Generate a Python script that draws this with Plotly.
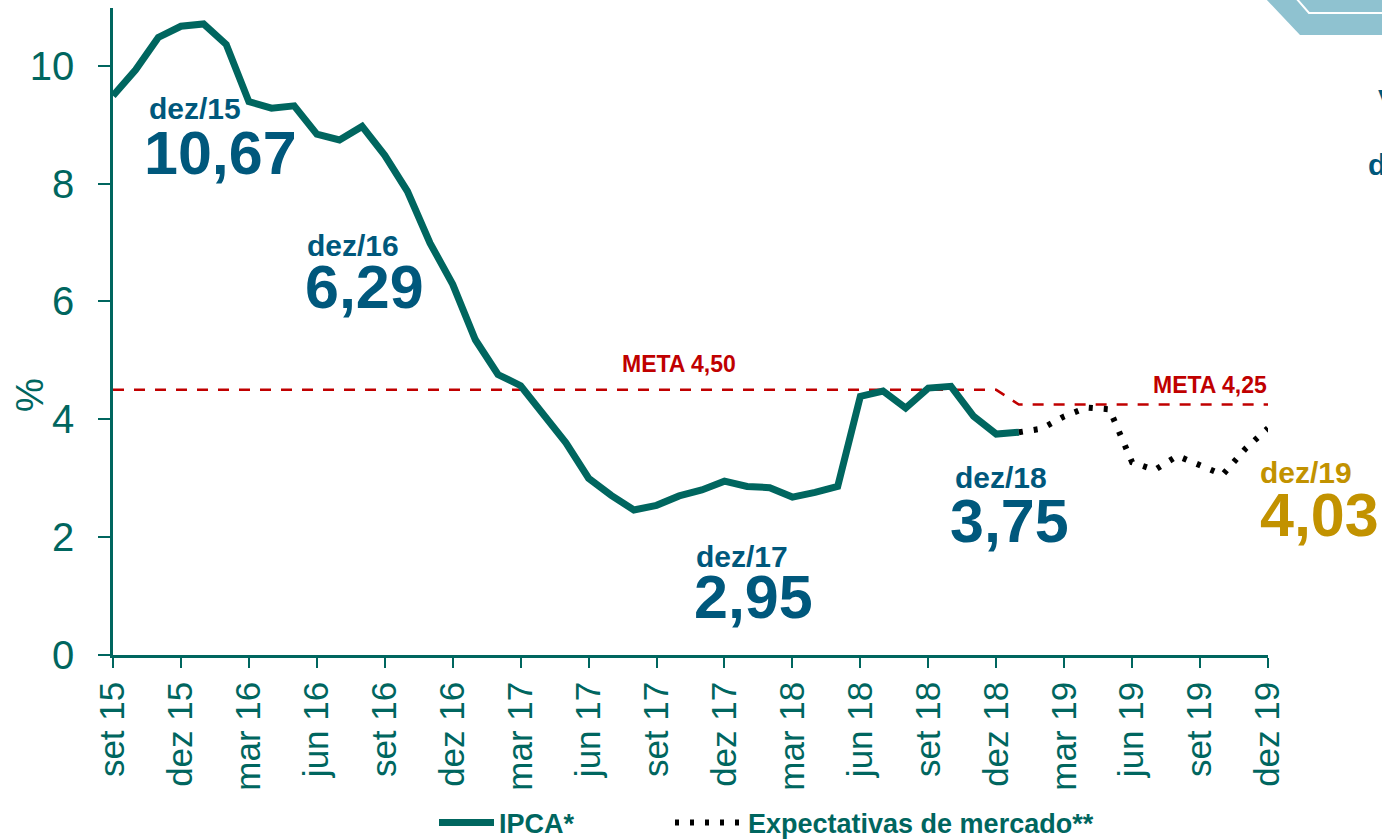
import plotly.graph_objects as go

# ---------------- data ----------------
tick_labels = ["set 15", "dez 15", "mar 16", "jun 16", "set 16", "dez 16", "mar 17",
               "jun 17", "set 17", "dez 17", "mar 18", "jun 18", "set 18", "dez 18",
               "mar 19", "jun 19", "set 19", "dez 19"]

# IPCA 12-month (%), monthly set/15 .. jan/19
ipca = [9.49, 9.93, 10.48, 10.67,
        10.71, 10.36, 9.39, 9.28, 9.32, 8.84, 8.74, 8.97, 8.48, 7.87, 6.99, 6.29,
        5.35, 4.76, 4.57, 4.08, 3.60, 3.00, 2.71, 2.46, 2.54, 2.70, 2.80, 2.95,
        2.86, 2.84, 2.68, 2.76, 2.86, 4.39, 4.48, 4.19, 4.53, 4.56, 4.05, 3.75,
        3.78]

# Market expectations (%), monthly jan/19 .. dez/19
expectativas = [3.78, 3.84, 4.05, 4.20, 4.17, 3.27, 3.14, 3.38, 3.22, 3.06, 3.50, 3.85]

# Inflation target (meta)
meta_ate_2018 = 4.50
meta_2019 = 4.25
meses_meta_ate_2018 = 40   # set/15 .. dez/18
meses_meta_2019 = 12       # jan/19 .. dez/19

# highlight labels
labels_periodo = ["dez/15", "dez/16", "dez/17", "dez/18", "dez/19"]
labels_valor = ["10,67", "6,29", "2,95", "3,75", "4,03"]

# ---------------- layout helpers ----------------
W, H = 1382, 840
L, R, T, B = 113, 114, 8, 185
PW, PH = W - L - R, H - T - B


def px(x):
    return (x - L) / PW


def py(y):
    return (H - B - y) / PH


TEAL = "#00665F"
BLUE = "#00587C"
GOLD = "#C29200"
RED = "#C00000"
FONT = "Liberation Sans"

x_ipca = list(range(len(ipca)))
x_exp = list(range(len(ipca) - 1, len(ipca) - 1 + len(expectativas)))
meta = [meta_ate_2018] * meses_meta_ate_2018 + [meta_2019] * meses_meta_2019
x_meta = list(range(len(meta)))

fig = go.Figure()
fig.add_trace(go.Scatter(x=x_meta, y=meta, mode="lines", showlegend=False,
                         line=dict(color=RED, width=2.5, dash="11px,10px"),
                         hoverinfo="skip"))
fig.add_trace(go.Scatter(x=x_ipca, y=ipca, mode="lines", name="IPCA*",
                         legend="legend",
                         line=dict(color=TEAL, width=7)))
fig.add_trace(go.Scatter(x=x_exp, y=expectativas, mode="lines",
                         name="Expectativas de mercado**", legend="legend2",
                         line=dict(color="black", width=6, dash="4px,11px")))

annotations = []
pos_periodo = [(195, 108, "center"), (353, 245, "center"), (742, 556, "center"),
               (1001, 478, "center"), (1258, 472, "left")]
pos_valor = [(220, 153, "center"), (364, 287, "center"), (753, 597, "center"),
             (1009, 521, "center"), (1258, 515, "left")]
for i, (per, val) in enumerate(zip(labels_periodo, labels_valor)):
    col = GOLD if i == len(labels_periodo) - 1 else BLUE
    x0, y0, xa = pos_periodo[i]
    annotations.append(dict(x=px(x0), y=py(y0), xref="paper", yref="paper",
                            text=per, showarrow=False, xanchor=xa, yanchor="middle",
                            font=dict(family=FONT, size=30, color=col, weight="bold")))
    x1, y1, xa1 = pos_valor[i]
    annotations.append(dict(x=px(x1), y=py(y1), xref="paper", yref="paper",
                            text=val, showarrow=False, xanchor=xa1, yanchor="middle",
                            font=dict(family=FONT, size=61, color=col, weight="bold")))

annotations.append(dict(x=px(679), y=py(364), xref="paper", yref="paper",
                        text="META 4,50", showarrow=False, xanchor="center", yanchor="middle",
                        font=dict(family=FONT, size=23, color=RED, weight="bold")))
annotations.append(dict(x=px(1210), y=py(385), xref="paper", yref="paper",
                        text="META 4,25", showarrow=False, xanchor="center", yanchor="middle",
                        font=dict(family=FONT, size=23, color=RED, weight="bold")))
annotations.append(dict(x=px(30), y=py(395), xref="paper", yref="paper",
                        text="%", showarrow=False, textangle=-90,
                        xanchor="center", yanchor="middle",
                        font=dict(family=FONT, size=38, color=TEAL)))
# partially visible text at right edge
annotations.append(dict(x=px(1376), y=py(100), xref="paper", yref="paper",
                        text="V", showarrow=False, xanchor="left", yanchor="middle",
                        font=dict(family=FONT, size=30, color=BLUE, weight="bold")))
annotations.append(dict(x=px(1366), y=py(165), xref="paper", yref="paper",
                        text="d", showarrow=False, xanchor="left", yanchor="middle",
                        font=dict(family=FONT, size=30, color=BLUE, weight="bold")))

shapes = [
    dict(type="path", xref="paper", yref="paper",
         path=f"M {px(1265)} {py(-2)} L {px(1300)} {py(35)} L {px(1390)} {py(35)} "
              f"L {px(1390)} {py(-2)} Z",
         fillcolor="#8FC2D0", line=dict(width=0), layer="above"),
    dict(type="path", xref="paper", yref="paper",
         path=f"M {px(1296)} {py(-2)} L {px(1309)} {py(13)} L {px(1390)} {py(13)}",
         line=dict(color="white", width=2), layer="above"),
]

legend_font = dict(family=FONT, size=27, color=TEAL, weight="bold")

fig.update_layout(
    width=W, height=H,
    margin=dict(l=L, r=R, t=T, b=B, autoexpand=False),
    paper_bgcolor="white", plot_bgcolor="white",
    showlegend=True,
    legend=dict(orientation="h", x=px(434), xanchor="left", y=py(823), yanchor="middle",
                font=legend_font, itemwidth=55, bgcolor="rgba(0,0,0,0)"),
    legend2=dict(orientation="h", x=px(670), xanchor="left", y=py(823), yanchor="middle",
                 font=legend_font, itemwidth=68, bgcolor="rgba(0,0,0,0)"),
    annotations=annotations,
    shapes=shapes,
    xaxis=dict(range=[0, 51], tickmode="array",
               tickvals=list(range(0, 52, 3)), ticktext=tick_labels,
               tickangle=-90, ticks="outside", ticklen=10, tickwidth=2, tickcolor=TEAL,
               showline=True, linecolor=TEAL, linewidth=2.5, showgrid=False,
               zeroline=False, tickfont=dict(family=FONT, size=35, color=TEAL)),
    yaxis=dict(range=[0, 10.98], tickmode="array", tickvals=[0, 2, 4, 6, 8, 10],
               ticks="outside", ticklen=12, tickwidth=2, tickcolor=TEAL,
               showline=True, linecolor=TEAL, linewidth=2.5, showgrid=False,
               zeroline=False, tickfont=dict(family=FONT, size=40, color=TEAL),
               ticklabelstandoff=16),
)

fig.write_html("out.html", config={"displayModeBar": False},
               post_script="document.body.style.margin='0';document.body.style.overflow='hidden';")
